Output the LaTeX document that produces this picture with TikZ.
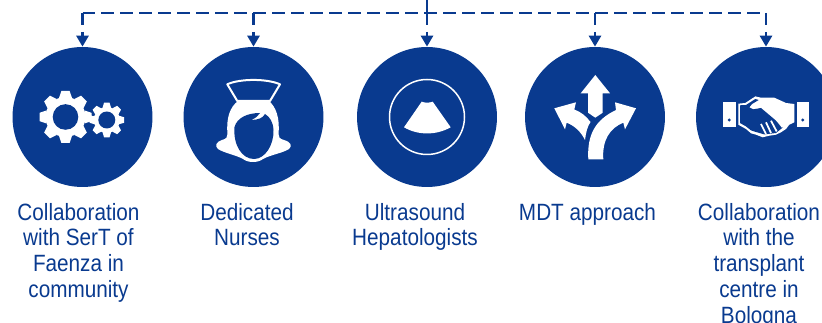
\documentclass[tikz,border=0pt]{standalone}
\usepackage{fontspec}
\setmainfont[FakeStretch=0.88]{Liberation Sans}
\usetikzlibrary{arrows.meta}
\definecolor{hubblue}{RGB}{9,58,143}
\tikzset{
	hubcircle/.style={circle, fill=hubblue, draw=none, minimum size=2.8cm, inner sep=0pt},
	hublabel/.style={text=hubblue, align=center, anchor=north, font=\fontsize{13.4}{14.7}\selectfont, inner sep=0pt},
	busline/.style={draw=hubblue, line width=0.055cm, dash pattern=on 0.25cm off 0.13cm},
	busarrow/.style={busline, -{Triangle[width=0.24cm, length=0.22cm]}}
}
\begin{document}
\begin{tikzpicture}[x=0.02cm, y=-0.02cm]
	\useasboundingbox (0, 0) rectangle (822, 323);
	%%%%% HUBS %%%%%
	\node[hubcircle] (collab) at (82.5, 117) {};
	\node[hubcircle] (nurses) at (253.5, 117) {};
	\node[hubcircle] (ultra) at (427, 117) {};
	\node[hubcircle] (mdt) at (595, 117) {};
	\node[hubcircle] (bologna) at (766, 117) {};

	%%%%% LABELS %%%%%
	\node[hublabel] (collabtext) at (78.5, 202.6) {Collaboration\\with SerT of\\Faenza in\\community};
	\node[hublabel] (nursestext) at (247, 202.6) {Dedicated\\Nurses};
	\node[hublabel] (ultratext) at (415, 202.6) {Ultrasound\\Hepatologists};
	\node[hublabel] (mdttext) at (587.5, 202.6) {MDT approach};
	\node[hublabel] (bolognatext) at (759, 202.6) {Collaboration\\with the\\transplant\\centre in\\Bologna};

	%%%%% BUS %%%%%
	\coordinate (busleft) at (collab.north |- 0, 13);
	\coordinate (busright) at (bologna.north |- 0, 13);
	\coordinate (feed) at (ultra.north |- 0, 0);
	\draw[busline] (feed) -- (ultra.north |- busleft);
	\draw[busline] (busleft) -- (busright);
	\draw[busarrow] (busleft) -- (collab.north);
	\draw[busarrow] (nurses.north |- busleft) -- (nurses.north);
	\draw[busarrow] (ultra.north |- busleft) -- (ultra.north);
	\draw[busarrow] (mdt.north |- busleft) -- (mdt.north);
	\draw[busarrow] (busright) -- (bologna.north);

	%%%%% GEARS %%%%%
	\foreach \cx/\cy/\ro/\rr/\rh in {65.5/117/26/20/12.8, 106.8/120/17.3/13/8.5} {
		\fill[white] (\cx, \cy) circle (\rr);
		\foreach \a in {0, 45, ..., 315} {
			\fill[white, shift={(\cx, \cy)}, rotate=\a] (-0.25*\ro, -\rr+1) -- (-0.16*\ro, -\ro) -- (0.16*\ro, -\ro) -- (0.25*\ro, -\rr+1) -- cycle;
		}
	}
	\fill[white] (83, 112.5) -- (94, 116.5) -- (93, 122) -- (83, 120) -- cycle;
	\fill[hubblue] (65.5, 117) circle (12.8);
	\fill[hubblue] (106.8, 120) circle (8.5);

	%%%%% NURSE %%%%%
	\draw[white, line width=0.04cm, line join=round, fill=hubblue] (227.3, 84.3) .. controls (240, 78.5) and (267, 78.5) .. (280, 84.3) -- (270, 101) -- (237.3, 101) -- cycle;
	\fill[white] (238, 101) -- (269, 101) .. controls (276, 107) and (280, 118) .. (278.5, 134) .. controls (278, 137) and (280, 139) .. (284, 140) .. controls (291, 142) and (292.5, 146) .. (289, 149) .. controls (283, 153) and (270, 155) .. (263, 159) .. controls (258, 163) and (248, 163) .. (243, 159) .. controls (236, 155) and (224, 153) .. (218, 149) .. controls (214.5, 146) and (216, 142) .. (222, 140) .. controls (226, 139) and (228, 137) .. (227.5, 134) .. controls (226, 118) and (230, 107) .. (238, 101) -- cycle;
	\fill[hubblue] (234.5, 127) .. controls (237, 118) and (247, 113) .. (260, 113) .. controls (258, 116) and (256, 118) .. (251, 120) .. controls (258, 120) and (263, 118) .. (265, 114) .. controls (270, 117) and (273, 122) .. (273.5, 130) .. controls (274, 145) and (265, 159) .. (254, 159) .. controls (242, 159) and (233, 145) .. (234.5, 127) -- cycle;

	%%%%% ULTRASOUND %%%%%
	\draw[white, line width=0.03cm] (ultra) circle (37.5);
	\fill[white] (421.7, 101.7) .. controls (425, 103) and (429, 103) .. (432.7, 101.7) -- (450.7, 127.3) .. controls (436, 135.5) and (418, 135.5) .. (404, 127.3) -- cycle;

	%%%%% ARROWS %%%%%
	\fill[white] (595.3, 75) -- (610, 93.3) -- (602.7, 93.3) -- (602.7, 112.7) -- (595.3, 117.7) -- (588, 112.7) -- (588, 93.3) -- (580.7, 93.3) -- cycle;
	\fill[white] (588.3, 159.3) .. controls (587, 135) and (595, 120) .. (616, 110) -- (615, 102.3) -- (636, 108.3) -- (625, 129.3) -- (623.3, 122.7) .. controls (610, 128) and (602, 140) .. (603.3, 159.3) -- cycle;
	\fill[white] (554.3, 108.3) -- (576, 102.3) -- (574.3, 109.5) .. controls (581, 112) and (586, 116) .. (590.5, 122) .. controls (587, 127) and (586, 133) .. (585, 140) .. controls (581, 132) and (575, 126) .. (566.7, 122.7) -- (565, 129.3) -- cycle;

	%%%%% HANDSHAKE %%%%%
	\fill[white] (723.3, 102.3) rectangle (735.7, 126.7);
	\fill[white] (796.7, 102.3) rectangle (809, 126.7);
	\fill[hubblue] (729.3, 120) circle (1.6);
	\fill[hubblue] (802.7, 120) circle (1.6);
	\fill[white] (738.3, 103.7) -- (745.3, 103) -- (755.3, 96.4) -- (761, 97.7) -- (774.3, 97.7) -- (786, 103) -- (794.3, 104) -- (794.3, 122.3) -- (789.3, 124.7) -- (786, 129) -- (781, 132.3) -- (776, 134.7) -- (769.3, 135.7) -- (762.7, 137.3) -- (756, 134.7) -- (751, 133.3) -- (746, 129) -- (738.3, 124.7) -- cycle;
	\fill[hubblue] (740, 105.3) -- (746, 105) -- (755.3, 99) -- (758.7, 100) -- (752, 104) -- (749.3, 107.3) -- (753.3, 109.3) -- (761, 108) -- (780, 124) -- (783, 127.3) -- (776, 133) -- (764.3, 134.4) -- (756, 132) -- (751, 130.4) -- (746, 126.4) -- (740, 123) -- cycle;
	\draw[white, line width=0.035cm] (761, 124) -- (766, 134) (766, 122.3) -- (771, 133) (771, 120.7) -- (776.7, 131.5) (776, 119) -- (782.7, 127.3);
\end{tikzpicture}
\end{document}
